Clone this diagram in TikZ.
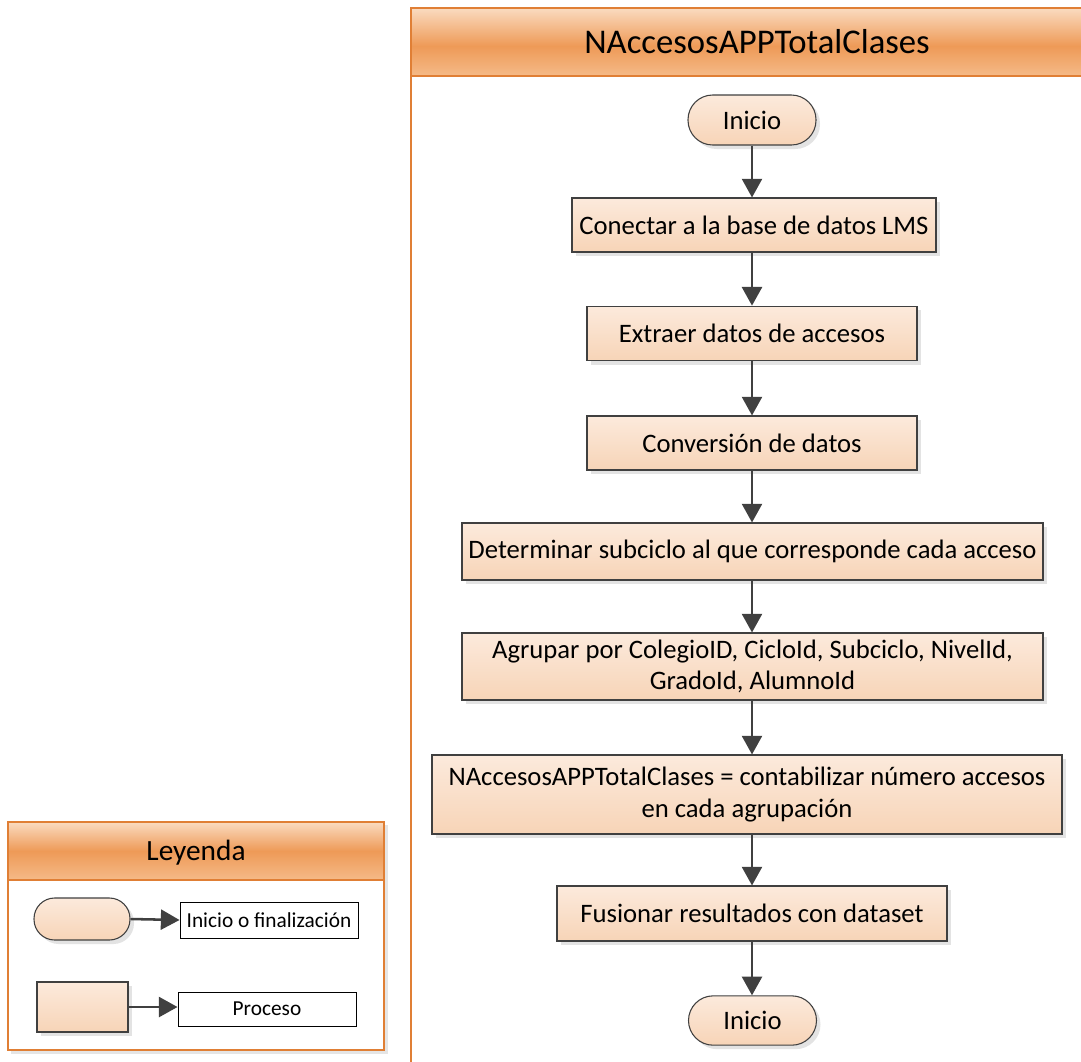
\documentclass[tikz,border=0pt]{standalone}
\usepackage{fontspec}
\setmainfont{Carlito}
\usetikzlibrary{arrows.meta,shadows}

\definecolor{laneline}{HTML}{E07F35}
\definecolor{headlight}{HTML}{FADBC0}
\definecolor{headdark}{HTML}{EE9A57}
\definecolor{headlow}{HTML}{F5BA88}
\definecolor{boxtop}{HTML}{FCEADC}
\definecolor{boxbottom}{HTML}{F7D4B7}
\definecolor{edgegray}{HTML}{404040}

\tikzset{
  shapebase/.style={draw=edgegray, line width=0.8pt, top color=boxtop, bottom color=boxbottom,
    drop shadow={shadow xshift=3pt, shadow yshift=-3pt, fill=black!11, opacity=1},
    align=center, inner sep=0pt, font=\fontsize{20}{23.5}\selectfont},
  procbox/.style={shapebase, rectangle},
  termbox/.style={shapebase, rectangle, rounded corners=18.5pt, minimum width=96pt, minimum height=37.5pt},
  labelbox/.style={draw=black, line width=0.7pt, fill=white, rectangle, inner sep=0pt,
    font=\fontsize{16}{19}\selectfont},
  flow/.style={draw=edgegray, line width=1.9pt, -{Triangle[length=14pt,width=15pt]}},
}

\begin{document}
\begin{tikzpicture}[x=0.75pt, y=-0.75pt]
  \useasboundingbox (0,0) rectangle (1081,1061);

  % swimlane header with a vertical orange gradient
  \shade[top color=headlight, bottom color=headdark] (411,8) rectangle (1085,46);
  \shade[top color=headdark, bottom color=headlow] (411,46) rectangle (1085,76);
  \draw[laneline, line width=1.2pt] (1085,8) -- (411,8) -- (411,1065);
  \draw[laneline, line width=1.2pt] (411,76) -- (1085,76);
  \node[font=\fontsize{26}{30}\selectfont] (title) at (757,42) {NAccesosAPPTotalClases};

  % flow steps
  \node[termbox] (start) at (752,120) {Inicio};
  \node[procbox, minimum width=273pt, minimum height=40.5pt] (conn) at (754,225) {Conectar a la base de datos LMS};
  \node[procbox, minimum width=247.5pt, minimum height=41pt] (extr) at (752,333.5) {Extraer datos de accesos};
  \node[procbox, minimum width=247.5pt, minimum height=40.5pt] (conv) at (752,443) {Conversión de datos};
  \node[procbox, minimum width=435.75pt, minimum height=42.75pt] (subc) at (752.5,551.5) {Determinar subciclo al que corresponde cada acceso};
  \node[procbox, minimum width=435.75pt, minimum height=50.25pt] (agru) at (752.5,666.5) {Agrupar por ColegioID, CicloId, Subciclo, NivelId,\\GradoId, AlumnoId};
  \node[procbox, minimum width=472.5pt, minimum height=59.25pt] (cont) at (747,794.5) {NAccesosAPPTotalClases = contabilizar número accesos\\en cada agrupación};
  \node[procbox, minimum width=292.5pt, minimum height=41.25pt] (fusi) at (752,913.5) {Fusionar resultados con dataset};
  \node[termbox, minimum height=37pt] (fin) at (752.5,1020.5) {Inicio};

  \draw[flow] (start.south) -- (start.south |- conn.north);
  \draw[flow] (conn.south -| start.south) -- (start.south |- extr.north);
  \draw[flow] (extr.south -| start.south) -- (start.south |- conv.north);
  \draw[flow] (conv.south -| start.south) -- (start.south |- subc.north);
  \draw[flow] (subc.south -| start.south) -- (start.south |- agru.north);
  \draw[flow] (agru.south -| start.south) -- (start.south |- cont.north);
  \draw[flow] (cont.south -| start.south) -- (start.south |- fusi.north);
  \draw[flow] (fusi.south -| start.south) -- (start.south |- fin.north);

  % legend panel
  \fill[black!10] (11,825) rectangle (388,1054);
  \fill[white] (8,822) rectangle (384,1050);
  \shade[top color=headlight, bottom color=headdark] (8,822) rectangle (384,851);
  \shade[top color=headdark, bottom color=headlow] (8,851) rectangle (384,880);
  \draw[laneline, line width=1.2pt] (8,822) rectangle (384,1050);
  \draw[laneline, line width=1.2pt] (8,880) -- (384,880);
  \node[font=\fontsize{22}{26}\selectfont] (legtitle) at (196,853) {Leyenda};

  \node[termbox, minimum width=72pt, minimum height=31.5pt, rounded corners=15.5pt] (legterm) at (82,919) {};
  \node[labelbox, minimum width=133.5pt, minimum height=27pt] (legtermlbl) at (269,920) {Inicio o finalización};
  \node[procbox, minimum width=68.25pt, minimum height=37.5pt] (legproc) at (82.5,1007) {};
  \node[labelbox, minimum width=133.5pt, minimum height=25.5pt] (legproclbl) at (267,1009) {Proceso};

  \draw[flow] (legterm.east) -- (legtermlbl.west);
  \draw[flow] (legproc.east) -- (legproc.east -| legproclbl.west);
\end{tikzpicture}
\end{document}
